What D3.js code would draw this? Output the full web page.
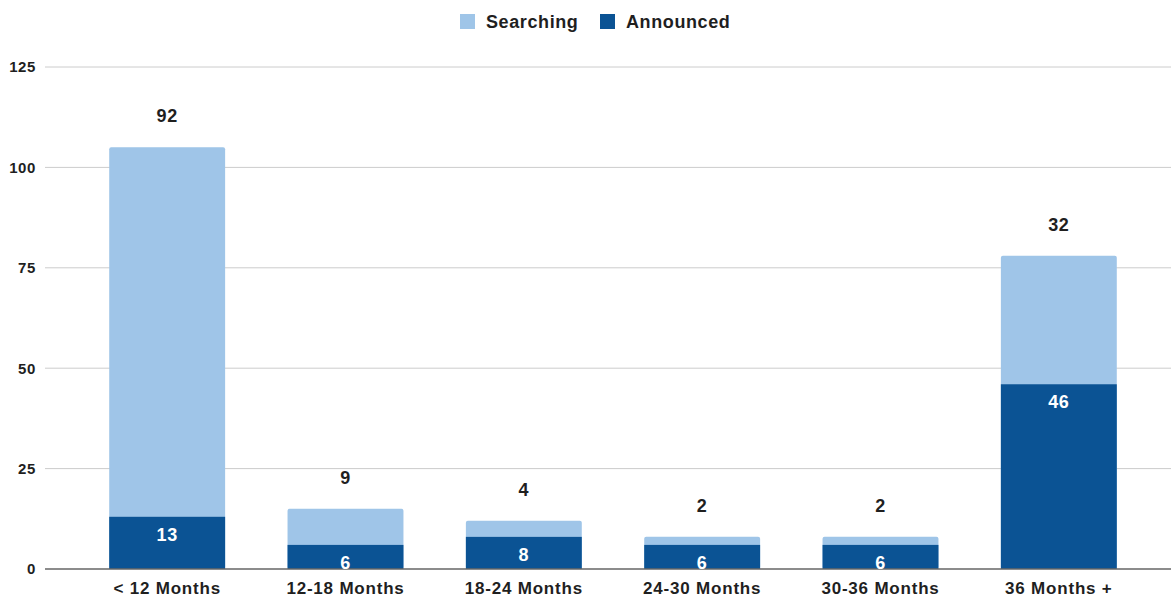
<!DOCTYPE html>
<html>
<head>
<meta charset="utf-8">
<script src="https://cdn.jsdelivr.net/npm/d3@7"></script>
<style>
  html, body { margin: 0; padding: 0; background: #fff; }
  svg { display: block; font-family: "Liberation Sans", Arial, sans-serif; }
</style>
</head>
<body>
<svg id="chart" width="1171" height="597"></svg>
<script>
// Time-to-deal buckets and counts per status
const categories = ["< 12 Months", "12-18 Months", "18-24 Months", "24-30 Months", "30-36 Months", "36 Months +"];
const announced = [13, 6, 8, 6, 6, 46];
const searching = [92, 9, 4, 2, 2, 32];
const yTicks = [0, 25, 50, 75, 100, 125];
const seriesNames = ["Searching", "Announced"];

const colors = { Searching: "#9fc5e8", Announced: "#0b5394" };
const textColor = "#1f1f1f";

const svg = d3.select("#chart");
const gridLeft = 45, gridRight = 1171;

const y = d3.scaleLinear().domain([0, 125]).range([569, 67]);
const x = d3.scaleBand().domain(categories).range([78, 1148]).paddingInner(0.35).paddingOuter(0.175);

// Gridlines
svg.append("g").selectAll("line").data(yTicks.filter(t => t > 0)).join("line")
  .attr("x1", gridLeft).attr("x2", gridRight)
  .attr("y1", d => y(d)).attr("y2", d => y(d))
  .attr("stroke", "#cccccc").attr("stroke-width", 1);

// Y axis tick labels
const yAxis = d3.axisLeft(y).tickValues(yTicks).tickSize(0).tickPadding(0);
const gy = svg.append("g").attr("transform", "translate(36,0)").call(yAxis);
gy.select(".domain").remove();
gy.selectAll("text")
  .attr("font-family", "Liberation Sans, Arial, sans-serif")
  .attr("font-size", 15).attr("font-weight", "bold").attr("letter-spacing", 0.6)
  .attr("fill", textColor);

const rows = categories.map((c, i) => ({ c, a: announced[i], s: searching[i] }));

// Searching segment (stacked on announced), slightly rounded top
svg.append("g").selectAll("rect").data(rows).join("rect")
  .attr("x", d => x(d.c)).attr("width", x.bandwidth())
  .attr("y", d => y(d.a + d.s)).attr("height", d => y(0) - y(d.a + d.s))
  .attr("rx", 2).attr("fill", colors.Searching);

// Announced segment
svg.append("g").selectAll("rect").data(rows).join("rect")
  .attr("x", d => x(d.c)).attr("width", x.bandwidth())
  .attr("y", d => y(d.a)).attr("height", d => y(0) - y(d.a))
  .attr("fill", colors.Announced);

// Baseline
svg.append("line").attr("x1", gridLeft).attr("x2", gridRight)
  .attr("y1", y(0)).attr("y2", y(0)).attr("stroke", "#666").attr("stroke-width", 1.5);

// Value labels: searching above the bar, announced inside its segment
svg.append("g").selectAll("text").data(rows).join("text")
  .attr("x", d => x(d.c) + x.bandwidth() / 2)
  .attr("y", d => y(d.a + d.s) - 25)
  .attr("text-anchor", "middle").attr("font-size", 18).attr("font-weight", "bold")
  .attr("letter-spacing", 0.6).attr("fill", textColor)
  .text(d => d.s);

svg.append("g").selectAll("text").data(rows).join("text")
  .attr("x", d => x(d.c) + x.bandwidth() / 2)
  .attr("y", d => y(d.a) + 24)
  .attr("text-anchor", "middle").attr("font-size", 18).attr("font-weight", "bold")
  .attr("letter-spacing", 0.6).attr("fill", "#ffffff")
  .text(d => d.a);

// Category labels
const xAxis = d3.axisBottom(x).tickSize(0).tickPadding(0);
const gx = svg.append("g").attr("transform", "translate(0,593.5)").call(xAxis);
gx.select(".domain").remove();
gx.selectAll("text")
  .attr("dy", 0).attr("y", 0)
  .attr("font-family", "Liberation Sans, Arial, sans-serif")
  .attr("font-size", 17).attr("font-weight", "bold").attr("letter-spacing", 0.8)
  .attr("fill", textColor);

// Legend
const legendItems = [
  { name: seriesNames[0], x: 460, tx: 486 },
  { name: seriesNames[1], x: 600, tx: 626 }
];
const lg = svg.append("g");
lg.selectAll("rect").data(legendItems).join("rect")
  .attr("x", d => d.x).attr("y", 14).attr("width", 15).attr("height", 15)
  .attr("fill", d => colors[d.name]);
lg.selectAll("text").data(legendItems).join("text")
  .attr("x", d => d.tx).attr("y", 28)
  .attr("font-size", 18).attr("font-weight", "bold").attr("letter-spacing", 0.6)
  .attr("fill", textColor)
  .text(d => d.name);
</script>
</body>
</html>
